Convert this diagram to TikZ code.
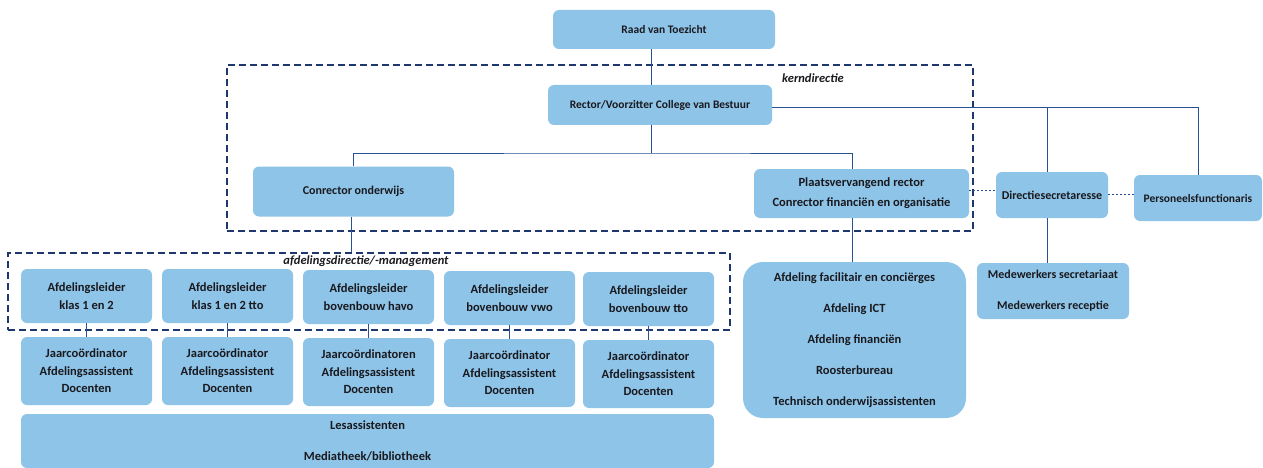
\documentclass[tikz,border=0pt]{standalone}
\usepackage{fontspec}
\setmainfont{Carlito}
\definecolor{boxfill}{RGB}{142,196,232}
\definecolor{linecol}{RGB}{40,80,150}
\definecolor{framecol}{RGB}{30,55,110}
\definecolor{txt}{RGB}{25,25,30}
\begin{document}
\begin{tikzpicture}[x=1pt,y=-1pt,
  box/.style={fill=boxfill,rounded corners=6pt,inner sep=0pt,align=center,text=txt,
    font=\fontsize{12}{18}\selectfont\bfseries},
  small/.style={font=\fontsize{11.5}{18}\selectfont\bfseries},
  big/.style={font=\fontsize{12.5}{#1}\selectfont\bfseries},
  frame/.style={draw=framecol,line width=1.3pt,dash pattern=on 7pt off 4pt,inner sep=0pt},
  conn/.style={draw=linecol,line width=0.9pt},
  dotconn/.style={draw=linecol,line width=1pt,dash pattern=on 2pt off 2pt},
  lbl/.style={font=\fontsize{12.5}{14}\selectfont\itshape\bfseries,text=txt,inner sep=0pt}]
\useasboundingbox (0,0) rectangle (1263,468);
% frames
\node[frame,minimum width=746pt,minimum height=166pt] (kernframe) at (600,148) {};
\node[frame,minimum width=722pt,minimum height=77pt] (afdframe) at (369,291.5) {};
\node[lbl] (kernlbl) at (813,78) {kerndirectie};
\node[lbl] (afdlbl) at (366,261) {afdelingsdirectie/-management};
% top boxes
\node[box,small,minimum width=222pt,minimum height=39pt] (raad) at (664,29.5) {Raad van Toezicht};
\node[box,small,minimum width=224pt,minimum height=40pt] (rector) at (660,105) {Rector/Voorzitter College van Bestuur};
\node[box,minimum width=201pt,minimum height=50pt] (conrector) at (353.5,191.5) {Conrector onderwijs};
\node[box,big=20,minimum width=215pt,minimum height=49pt] (plaats) at (861.5,193.5) {Plaatsvervangend rector\\Conrector financiën en organisatie};
\node[box,minimum width=112pt,minimum height=46pt] (directie) at (1052,195) {Directiesecretaresse};
\node[box,small,minimum width=128pt,minimum height=46pt] (personeel) at (1198,198) {Personeelsfunctionaris};
\node[box,big=31,rounded corners=20pt,minimum width=223pt,minimum height=156pt] (facil) at (854.5,340) {Afdeling facilitair en conciërges\\Afdeling ICT\\Afdeling financiën\\Roosterbureau\\Technisch onderwijsassistenten};
\node[box,font=\fontsize{12}{31}\selectfont\bfseries,minimum width=152pt,minimum height=56pt] (medew) at (1053,291) {Medewerkers secretariaat\\Medewerkers receptie};
% afdelingsleiders
\node[box,big=18,minimum width=131pt,minimum height=54pt] (afd1) at (86.5,296) {Afdelingsleider\\klas 1 en 2};
\node[box,big=18,minimum width=131pt,minimum height=54pt] (afd2) at (227.5,296) {Afdelingsleider\\klas 1 en 2 tto};
\node[box,big=18,minimum width=131pt,minimum height=54pt] (afd3) at (368.5,297) {Afdelingsleider\\bovenbouw havo};
\node[box,big=18,minimum width=131pt,minimum height=54pt] (afd4) at (509.5,298) {Afdelingsleider\\bovenbouw vwo};
\node[box,big=18,minimum width=131pt,minimum height=54pt] (afd5) at (648.5,299) {Afdelingsleider\\bovenbouw tto};
% jaarcoordinatoren
\node[box,big=17.5,minimum width=131pt,minimum height=68pt] (jaar1) at (86.5,371) {Jaarcoördinator\\Afdelingsassistent\\Docenten};
\node[box,big=17.5,minimum width=131pt,minimum height=68pt] (jaar2) at (227.5,371) {Jaarcoördinator\\Afdelingsassistent\\Docenten};
\node[box,big=17.5,minimum width=131pt,minimum height=68pt] (jaar3) at (368.5,372) {Jaarcoördinatoren\\Afdelingsassistent\\Docenten};
\node[box,big=17.5,minimum width=131pt,minimum height=68pt] (jaar4) at (509.5,373) {Jaarcoördinator\\Afdelingsassistent\\Docenten};
\node[box,big=17.5,minimum width=131pt,minimum height=68pt] (jaar5) at (648.5,374) {Jaarcoördinator\\Afdelingsassistent\\Docenten};
\node[box,big=31,minimum width=693pt,minimum height=54pt] (les) at (367.5,441) {Lesassistenten\\Mediatheek/bibliotheek};
% connectors
\coordinate (bus) at (651,153);
\draw[conn] ([xshift=-13pt]raad.south) -- ([xshift=-13pt]raad.south |- rector.north);
\draw[conn] ([xshift=-9pt]rector.south) -- (bus);
\draw[conn] (conrector.north) |- (bus) -| ([xshift=-9pt]plaats.north);
\draw[conn] ([yshift=-2pt]rector.east) -| (personeel.north);
\draw[conn] ([xshift=-5pt]directie.north) -- ([xshift=-5pt,yshift=-2pt]directie.north |- rector.east);
\draw[dotconn] ([yshift=3pt]plaats.east) -- ([yshift=3pt]plaats.east -| directie.west);
\draw[dotconn] ([yshift=1pt]directie.east) -- ([yshift=1pt]directie.east -| personeel.west);
\draw[conn] ([xshift=-9pt]plaats.south) -- ([xshift=-9pt]plaats.south |- facil.north);
\draw[conn] ([xshift=-5pt]directie.south) -- ([xshift=-5pt]directie.south |- medew.north);
\draw[conn] ([xshift=-2pt]conrector.south) -- ([xshift=-2pt]conrector.south |- afdframe.north);
\foreach \i in {1,...,5} {
  \draw[conn] (afd\i.south) -- (jaar\i.north);
}
\end{tikzpicture}
\end{document}
